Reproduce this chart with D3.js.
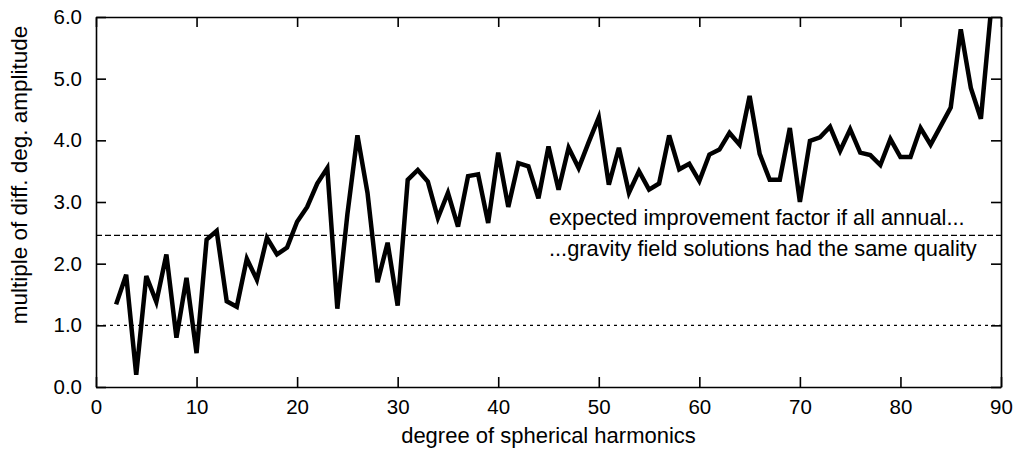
<!DOCTYPE html>
<html>
<head>
<meta charset="utf-8">
<script src="https://cdn.jsdelivr.net/npm/d3@7"></script>
<style>
  body { margin: 0; background: #fff; }
  text { font-family: "Liberation Sans", Arial, sans-serif; fill: #000; }
</style>
</head>
<body>
<div id="chart-area"></div>
<script>
// degrees 2..89
var degrees = d3.range(2, 90);
var factor = [
  1.34, 1.82, 0.2, 1.8, 1.38, 2.15, 0.8, 1.77, 0.55, 2.39,
  2.53, 1.39, 1.3, 2.08, 1.74, 2.42, 2.15, 2.26, 2.68, 2.92,
  3.3, 3.55, 1.27, 2.8, 4.08, 3.15, 1.7, 2.34, 1.32, 3.36,
  3.52, 3.33, 2.74, 3.15, 2.6, 3.42, 3.45, 2.66, 3.8, 2.92,
  3.63, 3.58, 3.06, 3.9, 3.2, 3.88, 3.55, 3.97, 4.37, 3.28,
  3.88, 3.15, 3.5, 3.2, 3.3, 4.08, 3.53, 3.62, 3.34, 3.77,
  3.85, 4.12, 3.93, 4.72, 3.78, 3.36, 3.36, 4.2, 3.0, 3.99,
  4.05, 4.22, 3.83, 4.18, 3.8, 3.76, 3.6, 4.02, 3.73, 3.73,
  4.2, 3.93, 4.23, 4.53, 5.8, 4.85, 4.35, 6.1
];
var xTicks = [0, 10, 20, 30, 40, 50, 60, 70, 80, 90];
var yTicks = [0, 1, 2, 3, 4, 5, 6];
var expectedFactor = 2.46;
var baseLevel = 1.0;
var noteLines = ["expected improvement factor if all annual...",
                 "...gravity field solutions had the same quality"];

var margin = {left: 96, right: 18, top: 17, bottom: 62};
var width = 1019 - margin.left - margin.right;
var height = 449 - margin.top - margin.bottom;

var svg = d3.select("#chart-area").append("svg")
    .attr("width", 1019)
    .attr("height", 449);
var g = svg.append("g")
    .attr("transform", "translate(" + margin.left + "," + margin.top + ")");

var x = d3.scaleLinear().domain([0, 90]).range([0, width]);
var y = d3.scaleLinear().domain([0, 6]).range([height, 0]);

svg.append("defs").append("clipPath").attr("id", "clip")
  .append("rect").attr("width", width).attr("height", height);

// reference lines
g.append("line")
    .attr("x1", 0).attr("x2", width)
    .attr("y1", y(expectedFactor)).attr("y2", y(expectedFactor))
    .attr("stroke", "#000").attr("stroke-width", 1.2)
    .attr("stroke-dasharray", "6,3");
g.append("line")
    .attr("x1", 0).attr("x2", width)
    .attr("y1", y(baseLevel)).attr("y2", y(baseLevel))
    .attr("stroke", "#000").attr("stroke-width", 1.2)
    .attr("stroke-dasharray", "3,4");

// data line
var line = d3.line()
    .x((d, i) => x(degrees[i]))
    .y(d => y(d));
g.append("path")
    .datum(factor)
    .attr("clip-path", "url(#clip)")
    .attr("d", line)
    .attr("fill", "none")
    .attr("stroke", "#000")
    .attr("stroke-width", 4.5)
    .attr("stroke-linejoin", "miter")
    .attr("stroke-miterlimit", 4);

// axes: inward ticks on all four sides
var fmt = d3.format(".1f");
g.append("g")
    .attr("transform", "translate(0," + height + ")")
    .call(d3.axisBottom(x).tickValues(xTicks).tickSizeInner(-10).tickSizeOuter(0).tickPadding(12))
    .call(a => a.selectAll("text").attr("font-size", "20.5px"));
g.append("g")
    .call(d3.axisTop(x).tickValues(xTicks).tickSizeInner(-10).tickSizeOuter(0).tickFormat(""));
g.append("g")
    .call(d3.axisLeft(y).tickValues(yTicks).tickSizeInner(-10).tickSizeOuter(0).tickPadding(14).tickFormat(fmt))
    .call(a => a.selectAll("text").attr("font-size", "20.5px"));
g.append("g")
    .attr("transform", "translate(" + width + ",0)")
    .call(d3.axisRight(y).tickValues(yTicks).tickSizeInner(-10).tickSizeOuter(0).tickFormat(""));

g.selectAll(".domain").attr("stroke-width", 1.6);
g.selectAll(".tick line").attr("stroke-width", 1.6);
g.selectAll(".tick text").attr("font-family", "'Liberation Sans', Arial, sans-serif");

// annotation
g.selectAll(".note")
    .data(noteLines)
    .enter().append("text")
    .attr("class", "note")
    .attr("x", 453)
    .attr("y", (d, i) => y(expectedFactor) + (i === 0 ? -10 : 21))
    .attr("font-size", "21.8px")
    .text(d => d);

// axis labels
g.append("text")
    .attr("x", width / 2)
    .attr("y", height + 56)
    .attr("text-anchor", "middle")
    .attr("font-size", "22px")
    .text("degree of spherical harmonics");
g.append("text")
    .attr("transform", "rotate(-90)")
    .attr("x", -158)
    .attr("y", -69)
    .attr("text-anchor", "middle")
    .attr("font-size", "22.5px")
    .text("multiple of diff. deg. amplitude");
</script>
</body>
</html>
